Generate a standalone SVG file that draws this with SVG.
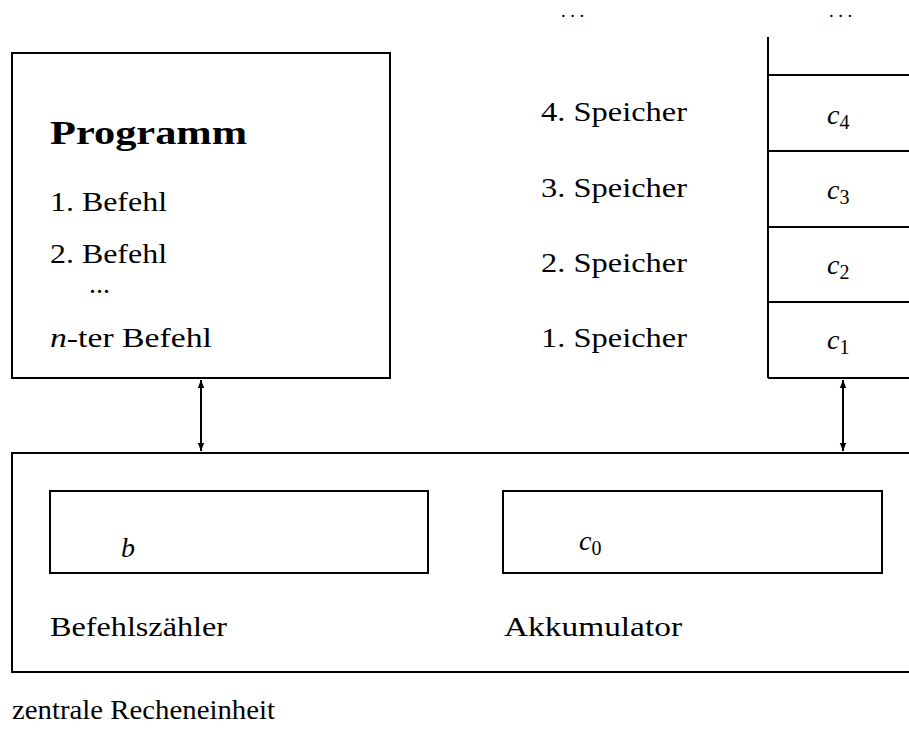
<svg xmlns="http://www.w3.org/2000/svg" width="909" height="736" viewBox="0 0 909 736">
<style>
.b{fill:none;stroke:#000;stroke-width:2}
</style>
<defs>
<marker id="ah" viewBox="0 0 10 10" refX="10" refY="5" markerWidth="9" markerHeight="8" markerUnits="userSpaceOnUse" orient="auto-start-reverse">
<path d="M0,1 L10,5 L0,9 Z" fill="#000"/>
</marker>
</defs>
<rect width="909" height="736" fill="#fff"/>
<g font-family="Liberation Serif, Times New Roman, serif" font-size="28" fill="#000">
<g id="programm">
<rect class="b" x="12" y="53" width="378" height="325"/>
<text x="50" y="144" font-size="34" font-weight="bold" textLength="197" lengthAdjust="spacingAndGlyphs">Programm</text>
<text x="50" y="211" textLength="117" lengthAdjust="spacingAndGlyphs">1. Befehl</text>
<text x="50" y="263" textLength="117" lengthAdjust="spacingAndGlyphs">2. Befehl</text>
<text x="89" y="293">...</text>
<text x="50" y="347" textLength="162" lengthAdjust="spacingAndGlyphs"><tspan font-style="italic">n</tspan>-ter Befehl</text>
</g>
<g id="speicher">
<path class="b" d="M768,37 V378 M768,75 H909 M768,151 H909 M768,227 H909 M768,302 H909 M768,378 H909"/>
<text x="561" y="17" font-size="19" letter-spacing="4.5">...</text>
<text x="829" y="17" font-size="19" letter-spacing="4.5">...</text>
<text x="541" y="121" textLength="146" lengthAdjust="spacingAndGlyphs">4. Speicher</text>
<text x="541" y="197" textLength="146" lengthAdjust="spacingAndGlyphs">3. Speicher</text>
<text x="541" y="272" textLength="146" lengthAdjust="spacingAndGlyphs">2. Speicher</text>
<text x="541" y="347" textLength="146" lengthAdjust="spacingAndGlyphs">1. Speicher</text>
<text x="827" y="124" font-style="italic">c<tspan font-size="20" font-style="normal" dy="5">4</tspan></text>
<text x="827" y="199" font-style="italic">c<tspan font-size="20" font-style="normal" dy="5">3</tspan></text>
<text x="827" y="274" font-style="italic">c<tspan font-size="20" font-style="normal" dy="5">2</tspan></text>
<text x="827" y="349" font-style="italic">c<tspan font-size="20" font-style="normal" dy="5">1</tspan></text>
</g>
<g id="cpu">
<path class="b" d="M909,453 H12 V672 H909"/>
<text x="12" y="719" textLength="263" lengthAdjust="spacingAndGlyphs">zentrale Recheneinheit</text>
</g>
<g id="befehlszaehler">
<rect class="b" x="50" y="491" width="378" height="82"/>
<text x="121" y="557" font-style="italic">b</text>
<text x="50" y="636" textLength="177" lengthAdjust="spacingAndGlyphs">Befehlszähler</text>
</g>
<g id="akkumulator">
<rect class="b" x="503" y="491" width="379" height="82"/>
<text x="579" y="550" font-style="italic">c<tspan font-size="20" font-style="normal" dy="5">0</tspan></text>
<text x="504" y="636" textLength="178" lengthAdjust="spacingAndGlyphs">Akkumulator</text>
</g>
</g>
<g id="connectors">
<line class="b" x1="201" y1="380" x2="201" y2="451" marker-start="url(#ah)" marker-end="url(#ah)"/>
<line class="b" x1="843" y1="380" x2="843" y2="451" marker-start="url(#ah)" marker-end="url(#ah)"/>
</g>
</svg>
